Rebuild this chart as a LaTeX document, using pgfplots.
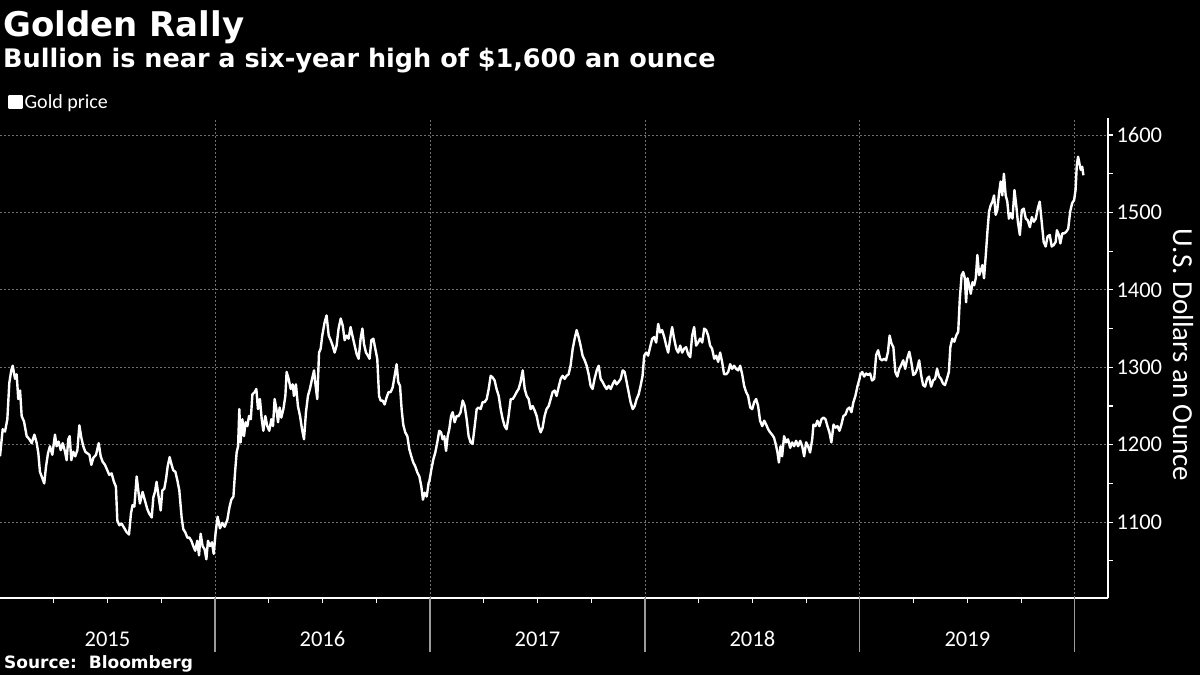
\documentclass[border=0pt]{standalone}
\usepackage{pgfplots}
\pgfplotsset{compat=1.18}
\usepackage{pgfplotstable}
\usepackage{fontspec}
\setmainfont{Carlito}
\newfontfamily\headfont{DejaVu Sans}

\definecolor{gridgray}{HTML}{707070}
\definecolor{divgray}{HTML}{9A9A9A}

% gold price, m = months since 1 Jan 2015, p = USD per ounce
\pgfplotstableread{
m p
0.00 1185
0.15 1220
0.28 1217
0.41 1233
0.52 1280
0.63 1296
0.71 1302
0.84 1285
0.93 1291
1.02 1259
1.12 1270
1.21 1237
1.34 1230
1.49 1211
1.64 1207
1.77 1202
1.92 1213
2.05 1202
2.14 1189
2.23 1165
2.36 1157
2.47 1150
2.57 1172
2.68 1189
2.79 1198
2.92 1187
3.07 1213
3.16 1198
3.27 1204
3.39 1193
3.50 1202
3.63 1191
3.72 1180
3.81 1207
3.89 1211
3.98 1180
4.09 1191
4.20 1185
4.32 1193
4.43 1225
4.54 1209
4.65 1198
4.76 1191
4.87 1189
4.99 1187
5.10 1174
5.21 1183
5.36 1187
5.51 1202
5.62 1185
5.73 1178
5.86 1174
5.99 1167
6.10 1161
6.23 1163
6.36 1152
6.47 1146
6.55 1102
6.66 1096
6.79 1098
6.92 1093
7.07 1087
7.20 1084
7.31 1111
7.40 1122
7.50 1120
7.63 1159
7.72 1141
7.81 1124
7.96 1139
8.09 1128
8.22 1117
8.33 1111
8.47 1106
8.56 1132
8.65 1139
8.74 1152
8.86 1132
8.97 1115
9.06 1141
9.17 1143
9.27 1156
9.36 1172
9.47 1184
9.58 1174
9.67 1167
9.79 1165
9.90 1154
10.01 1141
10.14 1106
10.23 1091
10.34 1087
10.46 1080
10.57 1080
10.68 1076
10.79 1069
10.90 1063
11.01 1076
11.11 1057
11.20 1085
11.31 1069
11.42 1065
11.52 1052
11.61 1076
11.72 1069
11.83 1074
11.93 1059
12.04 1087
12.15 1107
12.28 1092
12.41 1099
12.54 1094
12.69 1103
12.80 1118
12.91 1129
13.03 1133
13.12 1164
13.21 1190
13.29 1198
13.36 1246
13.43 1203
13.53 1233
13.62 1211
13.71 1229
13.81 1224
13.90 1237
14.00 1233
14.09 1265
14.22 1268
14.31 1272
14.40 1246
14.51 1259
14.61 1233
14.70 1218
14.81 1237
14.92 1224
15.03 1218
15.15 1233
15.24 1224
15.33 1259
15.43 1246
15.52 1229
15.61 1248
15.70 1235
15.82 1246
15.93 1263
16.00 1294
16.11 1285
16.23 1272
16.34 1278
16.41 1263
16.52 1278
16.63 1250
16.75 1237
16.86 1220
16.97 1207
17.08 1242
17.19 1263
17.30 1272
17.42 1285
17.53 1296
17.62 1276
17.71 1259
17.81 1319
17.90 1324
17.99 1341
18.12 1358
18.23 1367
18.35 1341
18.46 1335
18.57 1328
18.68 1319
18.79 1328
18.90 1350
19.02 1363
19.13 1354
19.24 1335
19.35 1341
19.46 1337
19.57 1352
19.69 1339
19.80 1328
19.91 1317
20.02 1311
20.13 1337
20.23 1350
20.32 1330
20.43 1319
20.54 1315
20.63 1311
20.73 1335
20.84 1337
20.95 1324
21.06 1311
21.16 1263
21.25 1257
21.36 1257
21.47 1252
21.58 1261
21.69 1268
21.81 1268
21.92 1274
22.03 1289
22.14 1304
22.23 1281
22.33 1276
22.42 1246
22.51 1226
22.62 1216
22.74 1211
22.85 1194
22.96 1185
23.07 1177
23.18 1172
23.30 1164
23.41 1159
23.52 1146
23.61 1129
23.70 1138
23.82 1133
23.93 1151
23.97 1153
24.08 1168
24.19 1181
24.30 1190
24.41 1203
24.52 1218
24.62 1216
24.71 1207
24.80 1211
24.90 1192
24.99 1211
25.08 1220
25.18 1237
25.27 1242
25.38 1229
25.49 1237
25.60 1237
25.71 1242
25.83 1257
25.94 1250
26.05 1233
26.16 1211
26.27 1203
26.38 1201
26.50 1224
26.61 1246
26.72 1248
26.83 1246
26.94 1255
27.05 1255
27.17 1259
27.28 1272
27.39 1289
27.50 1287
27.61 1283
27.72 1272
27.84 1263
27.95 1246
28.06 1233
28.17 1224
28.28 1220
28.39 1237
28.51 1259
28.62 1259
28.73 1263
28.84 1268
28.95 1272
29.06 1281
29.18 1296
29.29 1272
29.40 1263
29.51 1259
29.62 1246
29.73 1250
29.85 1244
29.96 1237
30.07 1224
30.18 1216
30.29 1222
30.40 1237
30.51 1246
30.63 1250
30.74 1259
30.85 1268
30.96 1270
31.07 1263
31.18 1274
31.30 1285
31.41 1289
31.52 1285
31.63 1289
31.74 1291
31.85 1302
31.97 1324
32.08 1337
32.19 1348
32.30 1339
32.41 1328
32.52 1315
32.64 1309
32.75 1302
32.86 1291
32.97 1276
33.08 1272
33.19 1285
33.31 1296
33.42 1302
33.53 1285
33.64 1281
33.75 1276
33.86 1272
33.98 1276
34.09 1272
34.20 1278
34.31 1283
34.42 1278
34.53 1281
34.65 1285
34.76 1296
34.87 1294
34.98 1281
35.09 1268
35.20 1255
35.32 1246
35.43 1250
35.54 1259
35.65 1265
35.76 1276
35.87 1289
35.96 1315
36.07 1319
36.18 1315
36.29 1326
36.41 1337
36.52 1339
36.63 1332
36.74 1356
36.85 1345
36.96 1348
37.08 1339
37.19 1328
37.30 1319
37.41 1337
37.52 1352
37.63 1337
37.75 1324
37.86 1319
37.97 1328
38.08 1319
38.19 1324
38.30 1326
38.41 1317
38.53 1313
38.64 1341
38.75 1352
38.86 1328
38.97 1332
39.08 1337
39.20 1332
39.31 1350
39.42 1348
39.53 1341
39.64 1328
39.75 1324
39.87 1311
39.98 1315
40.09 1307
40.20 1319
40.31 1307
40.42 1291
40.54 1291
40.65 1294
40.76 1304
40.87 1298
40.98 1302
41.09 1298
41.21 1296
41.32 1302
41.43 1291
41.54 1276
41.65 1268
41.76 1263
41.88 1248
41.99 1246
42.10 1255
42.21 1259
42.32 1250
42.43 1231
42.55 1224
42.66 1231
42.77 1226
42.88 1220
42.99 1216
43.10 1213
43.21 1209
43.33 1198
43.40 1190
43.48 1177
43.57 1198
43.66 1185
43.77 1211
43.88 1203
43.99 1207
44.11 1196
44.22 1203
44.33 1198
44.44 1205
44.55 1198
44.67 1205
44.78 1198
44.89 1185
45.00 1203
45.11 1198
45.22 1190
45.34 1207
45.41 1226
45.52 1224
45.63 1231
45.74 1224
45.86 1233
45.97 1235
46.08 1233
46.19 1224
46.30 1216
46.41 1203
46.53 1226
46.64 1222
46.75 1224
46.86 1218
46.97 1226
47.08 1237
47.20 1239
47.31 1246
47.42 1248
47.53 1242
47.64 1255
47.75 1263
47.87 1276
47.98 1285
48.02 1290
48.13 1294
48.24 1288
48.35 1292
48.46 1290
48.57 1292
48.68 1283
48.80 1285
48.91 1316
49.02 1322
49.13 1311
49.24 1309
49.35 1311
49.46 1309
49.57 1320
49.66 1341
49.76 1331
49.87 1326
49.98 1294
50.09 1288
50.20 1298
50.31 1303
50.42 1309
50.53 1298
50.64 1311
50.76 1320
50.87 1307
50.98 1290
51.09 1292
51.20 1298
51.31 1309
51.42 1290
51.53 1277
51.64 1275
51.75 1285
51.86 1288
51.98 1275
52.09 1283
52.20 1285
52.31 1298
52.42 1288
52.53 1285
52.64 1279
52.75 1277
52.86 1285
52.97 1294
53.05 1326
53.16 1337
53.27 1333
53.38 1341
53.49 1346
53.58 1389
53.68 1419
53.77 1423
53.86 1415
53.93 1384
54.01 1415
54.10 1406
54.19 1395
54.29 1410
54.38 1406
54.47 1415
54.56 1445
54.66 1419
54.75 1425
54.84 1432
54.93 1415
55.03 1445
55.12 1475
55.21 1501
55.30 1509
55.40 1514
55.49 1522
55.58 1497
55.67 1503
55.78 1527
55.86 1540
55.95 1522
56.04 1550
56.14 1522
56.23 1514
56.32 1492
56.41 1499
56.52 1492
56.63 1529
56.73 1509
56.82 1488
56.93 1471
57.04 1503
57.15 1505
57.26 1492
57.37 1490
57.49 1481
57.60 1494
57.71 1488
57.82 1492
57.93 1505
58.04 1514
58.15 1488
58.26 1462
58.37 1456
58.48 1469
58.60 1471
58.71 1456
58.82 1458
58.93 1462
59.00 1477
59.11 1471
59.19 1460
59.30 1473
59.41 1473
59.52 1475
59.63 1479
59.74 1501
59.85 1512
59.96 1516
60.04 1529
60.11 1561
60.18 1572
60.26 1563
60.33 1555
60.41 1559
60.48 1548
}\gold

\begin{document}
\begin{tikzpicture}
\fill[black] (0bp,0bp) rectangle (1200bp,675bp);

\node[anchor=base west, inner sep=0pt, text=white,
  font=\headfont\bfseries\fontsize{34bp}{40bp}\selectfont] at (3bp,638bp) {Golden Rally};
\node[anchor=base west, inner sep=0pt, text=white,
  font=\headfont\bfseries\fontsize{25.5bp}{30bp}\selectfont] at (3bp,607bp)
  {Bullion is near a six-year high of \$1,600 an ounce};
\node[anchor=base west, inner sep=0pt, text=white,
  font=\headfont\bfseries\fontsize{17bp}{20bp}\selectfont] at (4bp,7bp) {Source:\ \ Bloomberg};

\begin{axis}[
  at={(0bp,77bp)}, anchor=south west,
  scale only axis, width=1108bp, height=480bp,
  xmin=0, xmax=61.85, ymin=1002, ymax=1622,
  axis x line*=bottom, axis y line*=right,
  axis line style={white, line width=1.2bp},
  tick align=outside,
  tick style={white, line width=1.1bp},
  major tick length=5bp, minor tick length=5bp,
  xtick={6,18,30,42,54},
  xticklabels={2015,2016,2017,2018,2019},
  minor xtick={3,9,15,21,27,33,39,45,51,57},
  extra x ticks={12,24,36,48,60},
  extra x tick labels={},
  extra x tick style={grid=major, major tick length=54bp,
    tick style={divgray, line width=1.2bp}},
  ytick={1100,1200,...,1600},
  minor ytick={1050,1150,...,1550},
  ymajorgrids,
  grid style={gridgray, dash pattern=on 2bp off 2bp, line width=0.8bp},
  /pgf/number format/assume math mode=true,
  /pgf/number format/1000 sep={},
  xticklabel style={text=white, anchor=north, yshift=-25bp,
    font=\fontsize{22.5bp}{26bp}\selectfont},
  yticklabel style={text=white, anchor=west, xshift=0bp,
    font=\fontsize{22.5bp}{26bp}\selectfont},
  every axis y label/.style={at={(rel axis cs:1.0677,0.506)}, rotate=-90,
    anchor=center, text=white, font=\fontsize{29bp}{32bp}\selectfont},
  ylabel={U.S. Dollars an Ounce},
  legend style={at={(rel axis cs:0,1)}, anchor=south west, xshift=8bp, yshift=6bp,
    draw=none, fill=none, text=white, inner sep=0pt,
    font=\fontsize{20bp}{23bp}\selectfont, nodes={inner sep=2bp}},
  legend image code/.code={\fill[white] (0bp,-6bp) rectangle (12bp,6bp);},
]
\addplot[white, line width=2.4bp, line join=round, no marks] table[x=m, y=p] {\gold};
\addlegendentry{Gold price}
\end{axis}

\pgfresetboundingbox
\path[use as bounding box] (0bp,0bp) rectangle (1200bp,675bp);
\end{tikzpicture}
\end{document}
